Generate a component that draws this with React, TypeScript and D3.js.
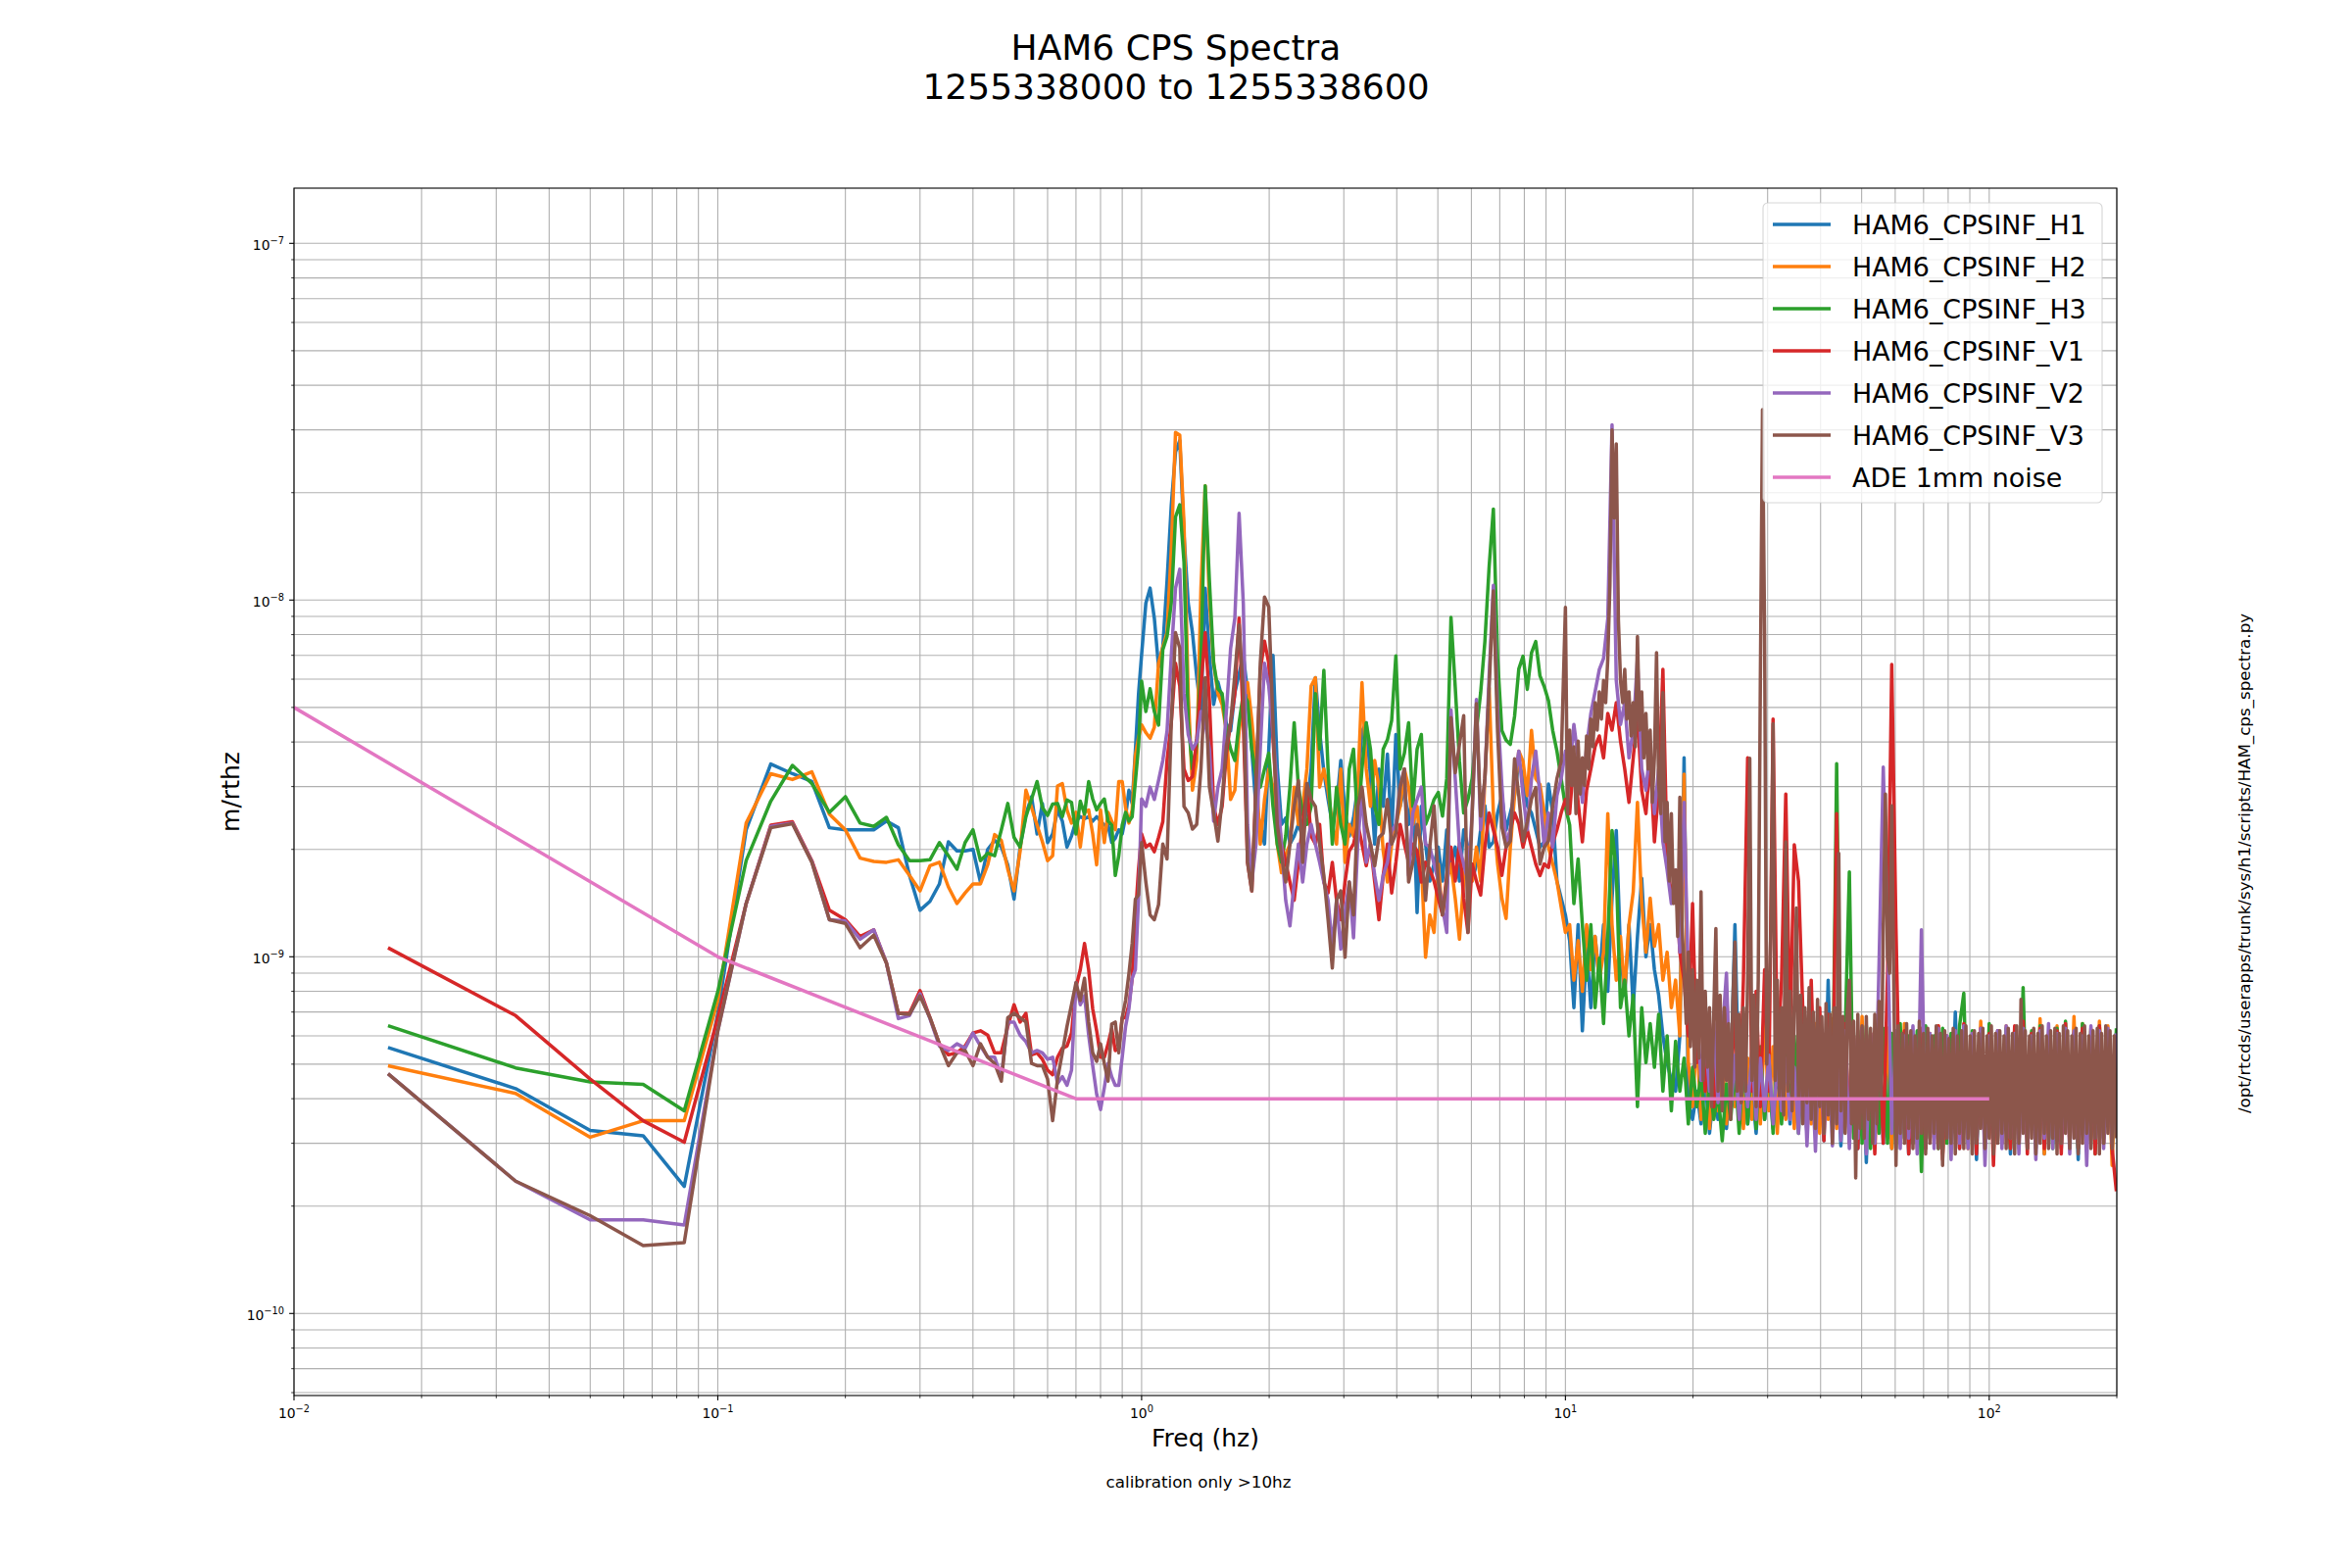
import React from "react";
import * as d3 from "d3";

// ---------------- data (amplitude in units of 1e-10 m/rthz) ----------------
const UNIT = 1e-10;
// low band: bins k/60 Hz, k = 1..60
const LOW_BIN_HZ = 1 / 60;
// mid band: 100 log-spaced bins per decade, 1..10 Hz
const MID_PER_DECADE = 100;
// high band: log-spaced bins from 10 Hz to 200 Hz
const HI_PER_DECADE = 100;
const HI_FINE_PER_DECADE = 200;

const H1_LOW = [5.57,4.27,3.26,3.15,2.27,6.94,22.7,34.7,32.6,31.0,23.0,22.7,22.7,22.7,24.0,23.0,16.9,13.5,14.3,16.0,21.0,19.8,19.8,20.0,16.2,20.0,21.2,20.3,18.1,14.5,20.3,25.1,28.1,22.1,26.9,20.9,22.1,25.8,24.0,20.3,21.8,24.0,24.7,24.4,24.7,24.0,24.7,24.0,23.4,23.4,20.9,21.5,22.7,22.1,24.7,29.3,26.9,37.8,54.5,70.3];
const H2_LOW = [4.95,4.14,3.12,3.47,3.47,7.55,23.7,32.6,31.4,33.0,25.1,22.7,18.9,18.5,18.4,18.7,16.9,15.3,18.0,18.4,15.7,14.1,15.1,16.0,16.0,18.1,22.0,21.2,17.6,15.3,19.7,29.3,26.2,23.4,21.0,18.6,19.2,30.1,30.6,25.8,23.7,25.4,20.3,25.4,25.8,22.1,18.1,25.8,20.9,25.4,24.0,22.7,31.0,31.0,26.2,23.7,25.8,36.7,41.1,44.7];
const H3_LOW = [6.41,4.88,4.46,4.39,3.70,7.99,18.6,27.3,34.4,30.6,25.4,28.1,23.7,23.2,24.6,20.6,18.6,18.6,18.7,20.9,19.2,17.6,20.9,22.7,18.6,19.5,19.2,22.7,26.9,21.6,20.3,24.7,27.7,31.0,26.2,24.9,26.8,26.9,24.7,27.5,27.1,22.1,27.3,25.1,31.0,27.7,25.8,26.9,27.7,24.0,23.4,16.9,19.2,23.4,25.4,24.0,24.7,31.0,38.9,59.3];
const V1_LOW = [10.6,6.84,4.54,3.47,3.02,6.75,14.1,23.4,23.9,18.6,13.5,12.7,11.4,11.9,9.6,6.94,6.94,8.04,6.75,5.70,5.31,5.38,5.62,6.11,6.20,6.03,5.38,5.38,6.38,7.34,6.56,6.94,5.31,5.38,5.16,4.81,4.67,5.23,5.54,5.62,6.11,8.22,9.2,10.9,9.2,7.14,6.20,5.23,5.23,5.70,6.29,5.46,5.54,6.75,6.75,7.34,8.70,12.9,17.6,22.1];
const V2_LOW = [4.70,2.35,1.83,1.83,1.77,6.20,14.1,23.2,23.7,18.5,12.7,12.6,11.2,11.9,9.6,6.71,6.84,7.88,6.71,5.62,5.46,5.70,5.54,6.11,5.62,5.23,5.23,4.61,6.56,6.56,6.03,5.78,5.38,5.46,5.38,5.16,5.23,4.42,4.61,4.36,4.81,8.46,7.34,7.77,6.03,4.95,4.12,3.73,4.30,5.02,4.61,4.36,4.36,5.23,6.38,7.14,8.70,9.2,14.5,27.7];
const V3_LOW = [4.70,2.35,1.88,1.55,1.58,6.20,14.1,23.0,23.6,18.4,12.7,12.4,10.6,11.5,9.6,6.94,6.90,7.77,6.75,5.70,4.95,5.38,5.46,4.95,5.70,5.23,5.02,4.48,6.75,6.94,6.75,6.56,5.02,4.95,4.95,4.54,3.47,4.54,5.38,6.38,7.34,8.46,7.55,8.70,6.56,5.38,5.09,5.70,5.02,4.48,6.47,6.56,5.38,6.75,7.55,8.95,10.9,14.5,14.9,20.9];

const H1_MID = [98,108,89,65,74,113,184,260,280,152,98,81,61,49,108,70,51,59,53,45,43,55,62,70,55,38,26,23.5,20.7,38,70,34,23.5,24.5,20.7,21.8,23.5,21.8,26.4,33.6,60.6,42.9,33,27.6,23.5,26.4,35.5,25.3,21.8,24.5,29.9,42.9,45.3,32,20.7,33.6,26.4,37,21.8,42,26.4,29.9,23.5,29.9,13.3,26.4,20.7,16.3,18.2,20.3,16.3,22.7,18.2,20.3,16.3,22.7,20.3,16.3,18.2,22.7,26.5,20.3,21,25.3,28.3,22.7,25.3,28.3,35.3,31.6,26.5,25.3,22.7,20.3,21,30.5,25.3,16.3,14.6,13.1];
const H2_MID = [42.5,41,44,66.5,73.7,81,138,295,290,164,54.7,29.3,35.5,108,209,100,66.5,54.7,51.0,42.9,27.6,29.3,42.9,52,58.7,46,33.6,20.7,27.6,33.6,29.9,20.7,17.2,19.3,20.7,29.9,23.5,26.4,33.6,57.4,60.6,29.9,33.6,29.3,23.5,20.7,33.6,18.4,23.5,21.8,29.9,58.7,33.6,26.4,35.5,29.9,19.8,16.2,20.7,23.5,26.4,33.6,29.9,23.5,26.4,18.4,9.97,13.1,11.7,18.2,13.1,16.3,18.2,14.6,11.2,16.3,20.3,16.3,20.3,16.3,31.6,56.8,25.3,18.2,14.6,12.8,20.3,28.3,37.7,35.3,28.3,43.1,31.6,30.4,25.3,20.3,18.2,16.3,13.8,11.7];
const H3_MID = [48.7,56.4,48.7,44.6,72.6,79,98,171,185,128,45.3,33.6,39,66.5,209,113,66.5,56.4,54.7,42.9,38.2,35.5,45.3,54.7,52,38.2,32,29.9,33.6,37.2,26.4,20.7,18.4,21.8,29.9,45.3,29.9,25.3,23.5,26.4,54.7,38.2,63.5,33.6,20.7,29.9,23.5,20.7,33.6,38.2,23.5,33.6,45.3,38.2,26.4,23.5,38.2,40.6,46,69.8,33.6,37.2,45.3,26.4,38.2,42,23.5,25.3,27.6,28.9,24.8,31.6,89.4,57.1,35.3,25.3,27.6,31.6,43.1,55.0,76.5,124,180,68.5,43.1,40.5,39.4,47.2,64.1,69.6,56.2,71.1,76.5,61.3,57.2,52.2,43.1,37.7,31.6,26.3];
const V1_MID = [20.3,20.7,19.7,21.6,23.9,35.5,45.3,66.5,57.4,33.6,31.2,32,40.9,57.4,81,52.2,26.4,23.5,26.4,37.2,45.3,54.7,89,45.3,18.4,15.3,29.9,63.5,76.7,66.5,40.9,26.4,20.7,18.4,16.2,14.4,18.4,23.5,29.9,21.8,20.7,23.5,16.2,15.1,18.4,14.4,12.7,16.2,19.8,20.7,23.5,20.7,18,20.7,16.2,12.7,16.9,20.7,15.1,18.4,23.5,20.7,18.4,20.7,19.8,16.2,18.4,17.6,16.3,14.6,13.1,16.9,20.3,16.3,20.8,14.6,11.7,18.2,16.3,14.9,20.3,25.3,22.7,20.3,16.9,20.3,22.7,25.3,23.6,20.3,22.7,20.3,18.2,16.9,18.2,17.8,20.8,22.7,25.3,27.6];
const V2_MID = [26.4,29.9,27.6,31.2,35.5,42.9,69.8,108,122,54.7,42,38.2,40,48.7,45.3,38.2,24,29.9,33.6,48.7,73.1,89,175,97.6,23.5,16.2,20.7,38.2,66.5,57.4,42.9,29.9,20.7,14.4,12.2,16.2,20.7,16.2,20.7,23.5,20.7,18.4,16.2,14.4,10.7,14.4,10.5,13.4,16.2,11.3,20.7,29.3,18.4,20.7,16.9,14.4,16.9,18.4,22.5,23.5,29.9,33.6,16.9,25.3,27.6,29.9,20.7,20.3,18.2,16.3,13.8,11.7,49.2,31.6,20.3,18.2,16.3,25.3,52.6,22.7,31.6,61.3,110,49.2,30.4,20.3,22.7,31.6,37.7,28.3,22.7,31.6,37.7,28.3,20.3,25.3,20.3,28.3,31.6,37.7];
const V3_MID = [16.2,13.1,12.7,14,20.7,18.8,45.3,81,73.4,26.4,25.3,22.8,23.5,33.6,60.6,29.9,25.3,21.1,27.6,39,45.3,62,85.3,54.7,18.4,15.3,29.9,66.5,102,95.7,45.3,23.5,19.3,16.2,20.7,26.4,31.2,18.4,30.6,27.6,26.4,20.7,16.9,12.7,9.3,14.4,15.3,9.97,16.2,13.1,26.4,29.9,23.5,20.7,18,21.6,22.2,27.6,20.7,22.2,29.9,33.6,16.2,18.4,23.5,20.7,14.4,20.3,26.5,16.3,13.1,16.3,46.8,32.8,39.4,47.4,11.7,25.3,51.2,24.8,31.6,56.8,106,42.6,23.1,20.3,21.1,35.9,28.3,21.1,23.9,27.7,29.8,18.2,20.3,21.1,26.5,31.6,35.3,95.4];

const H1_HI = [11.1,7.2,12.3,6.2,10.7,7.2,11.4,8.6,12.3,8.0,14.6,22.6,10.3,7.8,12.3,7.2,11.4,16.6,10.0,12.3,9.2,7.8,6.0,5.05,4.5,4.2,6.0,36.1,3.93,3.5,4.2,3.4,4.5,3.2,4.2,3.5,5.0,3.3,4.5,12.3,3.8,4.9,3.4,4.4,3.2,5.0,3.5,4.7,3.3,4.9,3.7,5.2,3.4,5.4,3.5,5.6,3.2,6.0,3.4,5.8,3.05,8.6,3.3,6.0,2.95,6.2,3.1,5.9,2.9,6.1,2.65,6.0,3.2,5.7,3.0,6.3,2.9,5.8,3.3,6.0,2.8,5.9,3.1,6.1,2.9,5.6,3.2,6.2,2.8,5.9,3.0,7.0,2.9,6.0,3.1,5.8,2.7,6.1,3.0,5.9,2.9,6.2,3.2,5.8,2.8,6.0,3.0,6.3,2.9,5.7,3.1,6.1,2.8,5.9,3.0,6.2,2.9,6.0,3.2,5.8,2.7,6.4,3.0,6.0,2.9,6.2,3.1,5.9,2.8,6.1];
const H2_HI = [12.3,8.6,11.1,8.0,12.3,9.2,11.4,8.6,10.3,25.2,12.3,8.6,11.4,8.0,12.3,15.2,27.1,14.1,10.3,14.6,10.7,12.3,8.6,10.3,7.2,8.6,6.0,32.5,5.05,3.8,6.0,3.5,5.4,3.3,5.6,3.7,5.2,3.4,5.4,3.8,6.0,3.3,5.2,3.5,5.8,3.4,6.5,3.7,5.6,3.2,6.0,3.5,6.2,3.3,5.4,3.7,5.8,3.4,6.5,3.2,6.0,3.5,6.7,3.3,5.6,6.4,3.0,6.0,3.2,6.8,2.9,6.1,3.1,5.9,3.3,6.3,2.9,6.0,3.0,6.5,3.1,5.8,2.9,6.2,3.2,6.0,3.0,6.4,2.8,5.9,3.1,6.1,3.0,6.3,2.9,6.0,3.2,6.6,3.0,6.2,2.9,6.0,3.1,6.4,3.0,6.1,2.9,6.3,3.2,6.0,3.0,6.7,2.8,6.1,3.1,6.4,3.0,6.2,2.9,6.8,3.1,6.5,3.0,6.3,2.9,6.6,3.2,6.4,2.6,6.0];
const H3_HI = [23.4,14.1,18.8,12.3,8.6,12.3,7.2,9.9,6.5,11.4,22.6,17.5,7.2,8.6,6.0,7.8,3.8,7.2,5.05,6.5,4.9,6.9,4.2,6.0,3.7,5.8,4.2,5.2,3.4,4.9,3.8,4.7,3.2,4.5,3.5,4.2,3.05,4.4,3.5,4.9,3.2,5.2,3.4,5.4,3.3,5.6,3.5,5.2,3.2,5.8,3.4,5.4,3.7,6.0,3.2,5.6,3.5,6.2,3.3,5.8,3.7,6.0,3.4,34.8,3.5,6.0,17.3,3.1,6.2,3.0,6.4,2.9,6.0,3.2,6.3,3.0,6.1,2.9,6.5,3.1,6.0,3.0,6.2,2.5,6.4,3.1,6.0,2.9,6.3,3.0,6.1,3.2,6.4,7.9,3.0,6.2,2.9,6.0,3.1,6.5,2.8,6.1,3.0,6.3,2.9,6.0,3.1,8.2,3.0,6.2,2.9,6.4,3.1,6.0,2.9,6.3,3.0,6.6,3.2,6.1,2.9,6.5,3.0,6.2,2.8,6.4,3.1,6.2,3.0,6.3];
const V1_HI = [25.2,36.1,27.1,21.0,29.3,33.6,38.8,41.6,36.1,48.1,43.2,51.6,40.2,33.6,27.1,36.1,48.1,29.3,25.2,36.1,21.0,29.3,63.9,18.8,14.6,17.5,10.3,8.6,6.0,14.1,5.05,7.2,4.2,6.5,3.8,6.9,4.5,8.0,4.2,7.2,3.5,8.6,36.1,4.2,8.0,3.8,9.2,4.2,46.4,5.05,8.6,28.6,6.0,20.6,16.3,7.2,3.2,8.6,3.5,7.2,3.05,6.9,3.4,25.2,3.2,6.5,3.1,6.0,2.9,6.3,3.2,6.1,2.8,6.4,3.0,9.0,66,12,3.1,6.2,2.8,6.0,3.0,6.3,2.9,6.1,3.1,6.4,2.7,6.0,3.0,6.2,2.9,6.5,3.1,6.0,2.8,6.3,3.0,6.1,2.6,6.2,3.0,6.0,2.9,6.4,3.1,6.6,2.8,6.1,3.0,6.3,2.9,6.0,3.1,6.2,2.8,6.5,3.0,6.1,2.9,6.3,3.1,6.0,2.8,6.4,3.0,6.2,2.9,2.2];
const V2_HI = [33.6,44.8,36.1,27.1,38.8,48.1,55.3,63.9,68.6,88.6,310,59.5,44.8,51.6,36.1,43.2,68.6,33.6,29.3,38.8,25.2,33.6,21.0,17.5,14.1,17.5,10.3,27.1,8.6,6.0,7.2,4.5,6.0,4.2,6.5,3.9,6.0,9.0,3.7,5.3,3.5,5.2,3.8,5.3,3.5,5.2,3.7,5.3,3.4,5.0,3.7,5.2,3.5,4.9,3.2,6.0,2.95,5.6,2.85,6.2,3.2,6.0,2.95,5.8,3.05,6.2,2.9,6.0,3.1,6.3,2.8,6.1,3.0,9.5,34,12,3.2,6.2,2.9,6.0,3.1,6.4,2.8,11.9,3.0,6.1,2.9,6.3,3.1,6.0,2.7,6.2,3.0,6.4,2.9,6.1,3.1,6.3,2.6,6.0,3.0,6.2,2.9,6.4,3.1,6.1,2.8,6.3,3.0,6.0,2.7,6.2,3.1,6.5,2.9,6.1,3.0,6.3,2.8,6.2,3.0,6.0,2.6,6.4,3.1,6.2,2.9,6.3,3.0,6.1];
const V3_HI = [25.2,43.2,30.2,38.8,25.2,40.2,28.6,36.1,30.2,41.6,33.6,46.4,38.8,51.6,43.2,55.3,46.4,59.5,51.6,68.6,110,300,170,274,88,59.5,51.6,63.9,46.4,55.3,41.6,51.6,38.8,79.0,43.2,55.3,36.1,48.1,33.6,43.2,27.1,36.1,71.2,30.2,25.2,55,21.0,27.1,16.3,25.2,14.1,17.5,11.4,28.0,12.3,9.2,6.5,10.3,5.6,9.2,4.9,8.6,5.2,15.2,4.5,8.0,4.9,7.2,3.8,6.9,12.0,4.2,7.8,3.7,7.2,4.5,6.5,3.5,7.5,11.0,4.2,6.9,3.9,7.2,4.2,8.6,36.0,4.5,7.8,3.8,8.6,60,342,80,5.0,7.5,12,45,4.5,8.6,4.0,7.2,3.6,21.0,4.2,8.0,3.7,7.5,13.7,4.0,7.8,3.4,7.2,3.9,8.2,3.5,7.0,3.3,7.6,3.8,6.8,3.2,7.4,3.6,6.9,3.0,7.2,3.4,19.5,3.7,6.8,3.2,7.0,8.6,3.4,6.6,2.4,6.9,3.3,6.4,3.1,6.8,3.5,6.3,3.0,6.9,3.4,7.5,4.0,12.0,28.6,10.0,9.0,26.5,8.0,2.6,6.4,3.2,6.1,3.0,6.5,3.3,6.2,2.9,6.0,3.1,6.6,3.2,6.1,2.8,6.3,3.0,6.0,3.2,6.4,2.9,6.1,2.6,6.2,3.1,5.9,3.0,6.3,2.8,6.0,3.2,6.2,2.9,6.4,3.1,6.0,2.8,6.2,3.0,6.1,3.3,6.3,2.9,6.0,3.1,6.4,2.8,6.1,3.0,6.2,3.2,6.0,2.9,6.3,3.1,6.1,2.8,6.4,3.0,7.6,3.2,6.2,2.9,6.0,3.1,6.3,2.8,6.1,3.0,6.4,3.2,6.0,2.9,6.2,3.1,6.3,2.8,6.1,3.0,6.4,3.2,6.2,2.9,6.0,3.1,6.3,2.8,6.1,3.0,6.4,3.2,6.0,2.9,6.2,3.1,6.3,2.8,6.1,3.0,6.4,3.2,6.2,2.9,6.0,3.1];

const ADE_FREQS = [0.01, 0.1, 0.7, 100];
const ADE_VALUES = [50, 10, 4, 4];

const SERIES_NAMES = ["HAM6_CPSINF_H1","HAM6_CPSINF_H2","HAM6_CPSINF_H3","HAM6_CPSINF_V1","HAM6_CPSINF_V2","HAM6_CPSINF_V3"];
const ADE_NAME = "ADE 1mm noise";
const COLORS = ["#1f77b4","#ff7f0e","#2ca02c","#d62728","#9467bd","#8c564b","#e377c2"];

const X_TICK_EXPONENTS = [-2, -1, 0, 1, 2];
const Y_TICK_EXPONENTS = [-10, -9, -8, -7];

// ---------------- layout ----------------
const W = 2400, H = 1600;
const L = 300, R = 2160, T = 192, B = 1424;
const FONT = "'DejaVu Sans', sans-serif";
const LINE_W = 3.5;

function buildPoints(low: number[], mid: number[], hi: number[], hiPerDecade: number): [number, number][] {
  const pts: [number, number][] = [];
  low.forEach((v, i) => pts.push([(i + 1) * LOW_BIN_HZ, v * UNIT]));
  mid.forEach((v, i) => pts.push([Math.pow(10, (i + 1) / MID_PER_DECADE), v * UNIT]));
  hi.forEach((v, i) => pts.push([Math.pow(10, 1 + (i + 1) / hiPerDecade), v * UNIT]));
  return pts;
}

const SERIES_DATA = [
  buildPoints(H1_LOW, H1_MID, H1_HI, HI_PER_DECADE),
  buildPoints(H2_LOW, H2_MID, H2_HI, HI_PER_DECADE),
  buildPoints(H3_LOW, H3_MID, H3_HI, HI_PER_DECADE),
  buildPoints(V1_LOW, V1_MID, V1_HI, HI_PER_DECADE),
  buildPoints(V2_LOW, V2_MID, V2_HI, HI_PER_DECADE),
  buildPoints(V3_LOW, V3_MID, V3_HI, HI_FINE_PER_DECADE),
];
const ADE_DATA: [number, number][] = ADE_FREQS.map((f, i) => [f, ADE_VALUES[i] * UNIT]);

const x = d3.scaleLog().domain([0.01, 200]).range([L, R]);
const y = d3.scaleLog().domain([Math.pow(10, -10.23), Math.pow(10, -6.8453)]).range([B, T]);
const line = d3.line<[number, number]>().x((d) => x(d[0])).y((d) => y(d[1]));

function logTicks(lo: number, hi: number, expLo: number, expHi: number) {
  const major: number[] = [];
  const minor: number[] = [];
  for (let e = expLo; e <= expHi; e++) {
    for (let k = 1; k <= 9; k++) {
      const v = k * Math.pow(10, e);
      if (v < lo * 0.9999 || v > hi * 1.0001) continue;
      (k === 1 ? major : minor).push(v);
    }
  }
  return { major, minor };
}

const xt = logTicks(0.01, 200, -2, 2);
const yt = logTicks(Math.pow(10, -10.23), Math.pow(10, -6.8453), -11, -7);

const expText = (e: number) => (e < 0 ? "\u2212" + Math.abs(e) : String(e));

export default function App() {
  const legendItems = [...SERIES_NAMES, ADE_NAME];
  return (
    <svg width={W} height={H} viewBox={`0 0 ${W} ${H}`} style={{ position: "absolute", left: 0, top: 0, background: "#fff" }}>
      <rect x={0} y={0} width={W} height={H} fill="#fff" />
      <defs>
        <clipPath id="plotclip">
          <rect x={L} y={T} width={R - L} height={B - T} />
        </clipPath>
      </defs>

      {/* title */}
      <text x={1200} y={61} textAnchor="middle" fontFamily={FONT} fontSize={36}>HAM6 CPS Spectra</text>
      <text x={1200} y={101} textAnchor="middle" fontFamily={FONT} fontSize={36}>1255338000 to 1255338600</text>

      {/* grid */}
      <g stroke="#b0b0b0" strokeWidth={1.1}>
        {[...xt.major, ...xt.minor].map((v, i) => (
          <line key={"gx" + i} x1={x(v)} x2={x(v)} y1={T} y2={B} />
        ))}
        {[...yt.major, ...yt.minor].map((v, i) => (
          <line key={"gy" + i} x1={L} x2={R} y1={y(v)} y2={y(v)} />
        ))}
      </g>

      {/* data */}
      <g clipPath="url(#plotclip)" fill="none" strokeLinejoin="round" strokeLinecap="butt">
        {SERIES_DATA.map((pts, i) => (
          <path key={"s" + i} d={line(pts) || ""} stroke={COLORS[i]} strokeWidth={LINE_W} />
        ))}
        <path d={line(ADE_DATA) || ""} stroke={COLORS[6]} strokeWidth={LINE_W} />
      </g>

      {/* spines */}
      <rect x={L} y={T} width={R - L} height={B - T} fill="none" stroke="#000" strokeWidth={1.1} />

      {/* ticks */}
      <g stroke="#000">
        {xt.major.map((v, i) => (
          <line key={"xM" + i} x1={x(v)} x2={x(v)} y1={B} y2={B + 4.9} strokeWidth={1.1} />
        ))}
        {xt.minor.map((v, i) => (
          <line key={"xm" + i} x1={x(v)} x2={x(v)} y1={B} y2={B + 2.8} strokeWidth={0.8} />
        ))}
        {yt.major.map((v, i) => (
          <line key={"yM" + i} x1={L - 4.9} x2={L} y1={y(v)} y2={y(v)} strokeWidth={1.1} />
        ))}
        {yt.minor.map((v, i) => (
          <line key={"ym" + i} x1={L - 2.8} x2={L} y1={y(v)} y2={y(v)} strokeWidth={0.8} />
        ))}
      </g>
      {X_TICK_EXPONENTS.map((e) => (
        <text key={"xl" + e} x={x(Math.pow(10, e))} y={1446.5} textAnchor="middle" fontFamily={FONT} fontSize={13.9}>
          <tspan>10</tspan>
          <tspan fontSize={9.8} dy={-5.5}>{expText(e)}</tspan>
        </text>
      ))}
      {Y_TICK_EXPONENTS.map((e) => (
        <text key={"yl" + e} x={290} y={y(Math.pow(10, e)) + 6.5} textAnchor="end" fontFamily={FONT} fontSize={13.9}>
          <tspan>10</tspan>
          <tspan fontSize={9.8} dy={-5.5}>{expText(e)}</tspan>
        </text>
      ))}

      {/* axis labels */}
      <text x={1230} y={1476} textAnchor="middle" fontFamily={FONT} fontSize={25}>Freq (hz)</text>
      <text transform={`translate(244,808) rotate(-90)`} textAnchor="middle" fontFamily={FONT} fontSize={25}>m/rthz</text>
      <text x={1223} y={1518} textAnchor="middle" fontFamily={FONT} fontSize={16.7}>calibration only &gt;10hz</text>
      <text transform={`translate(2296,881) rotate(-90)`} textAnchor="middle" fontFamily={FONT} fontSize={16.7}>/opt/rtcds/userapps/trunk/sys/h1/scripts/HAM_cps_spectra.py</text>

      {/* legend */}
      <g>
        <rect x={1799} y={207} width={346} height={306} rx={5} ry={5} fill="#ffffff" fillOpacity={0.8} stroke="#cccccc" strokeOpacity={0.8} strokeWidth={1.1} />
        {legendItems.map((name, i) => {
          const cy = 229 + i * 43;
          return (
            <g key={"lg" + i}>
              <line x1={1809} x2={1868} y1={cy} y2={cy} stroke={COLORS[i]} strokeWidth={LINE_W} />
              <text x={1890} y={cy + 9.5} fontFamily={FONT} fontSize={26.9}>{name}</text>
            </g>
          );
        })}
      </g>
    </svg>
  );
}
